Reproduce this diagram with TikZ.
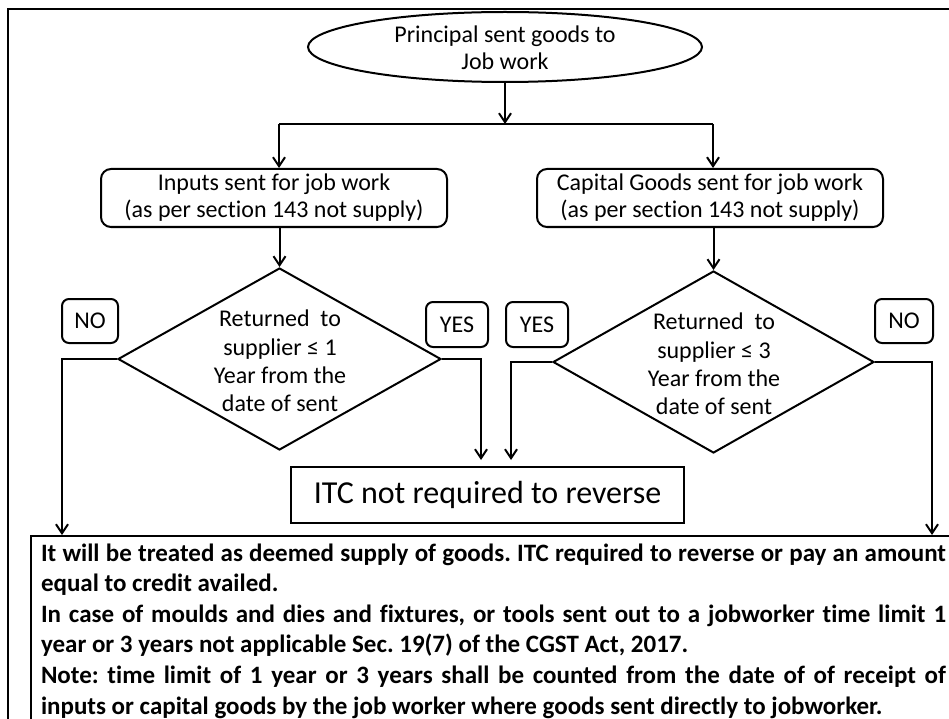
\documentclass[tikz,border=0pt]{standalone}
\usepackage{fontspec}
\setmainfont{Carlito}[Ligatures={NoCommon,NoContextual}]
\usetikzlibrary{shapes.geometric,arrows.meta}
\begin{document}
\frenchspacing
\begin{tikzpicture}[x=1pt,y=-1pt, line width=2pt,
  arr/.style={-{Straight Barb[length=9pt,width=12pt,line width=2pt]}},
  txt/.style={font=\fontsize{24}{27}\selectfont, align=center, inner sep=0pt},
  stepbox/.style={draw, rounded corners=10pt, inner sep=0pt, minimum width=346pt, minimum height=58pt, txt},
  lbl/.style={draw, rounded corners=7pt, inner sep=0pt, minimum height=44pt, font=\fontsize{24}{26}\selectfont},
  dia/.style={draw, diamond, inner sep=0pt, minimum height=182pt},
  ]
\useasboundingbox (0,0) rectangle (949,719);
\begin{scope}
\clip (0,0) rectangle (949,719);
\coordinate (fA) at (8,740);
\coordinate (fB) at (8,9);
\coordinate (fC) at (970,9);
\draw (fA) -- (fB) -- (fC);
\node[draw, inner sep=0pt, minimum width=960pt, minimum height=220pt, anchor=north west] (notebox) at (30,535) {};
\end{scope}
% start ellipse
\node[draw, ellipse, inner sep=0pt, minimum width=394pt, minimum height=70pt] (start) at (505,47) {};
\node[txt] (startT) at (505,48) {Principal sent goods to\\Job work};
% boxes
\node[stepbox] (inbox) at (274,198) {Inputs sent for job work\\(as per section 143 not supply)};
\node[stepbox] (capbox) at (710,198) {Capital Goods sent for job work\\(as per section 143 not supply)};
% diamonds
\node[dia, minimum width=323pt] (dL) at (279.5,359) {};
\node[txt, font=\fontsize{24}{28.3}\selectfont] (dLT) at (280,361) {Returned\ \ to\\supplier ≤ 1\\Year from the\\date of sent};
\node[dia, minimum width=321pt] (dR) at (713.5,362) {};
\node[txt, font=\fontsize{24}{28.3}\selectfont] (dRT) at (714,364) {Returned\ \ to\\supplier ≤ 3\\Year from the\\date of sent};
% labels
\node[lbl, minimum width=56pt] (noL) at (90,321) {NO};
\node[lbl, minimum width=62pt, minimum height=45pt] (yesL) at (457,324.5) {YES};
\node[lbl, minimum width=62pt, minimum height=45pt] (yesR) at (537,324.5) {YES};
\node[lbl, minimum width=58pt] (noR) at (904,321) {NO};
% ITC box
\node[draw, inner sep=0pt, minimum width=393pt, minimum height=56pt, font=\fontsize{32}{36}\selectfont] (itc) at (487.5,495) {ITC not required to reverse};
% note text
\node[anchor=base west, inner sep=0pt] (notetext) at (40,561) {\parbox[t]{905pt}{\bfseries\fontsize{25}{30.6}\selectfont
It will be treated as deemed supply of goods. ITC required to reverse or pay an amount\linebreak equal to credit availed.\par
In case of moulds and dies and fixtures, or tools sent out to a jobworker time limit 1\linebreak year or 3 years not applicable Sec. 19(7) of the CGST Act, 2017.\par
Note: time limit of 1 year or 3 years shall be counted from the date of of receipt of\linebreak inputs or capital goods by the job worker where goods sent directly to jobworker.}};
% connectors
\coordinate (jM) at (505,124);
\coordinate (jL) at (279,124);
\coordinate (jR) at (713,124);
\draw[arr] (start.south) -- (jM);
\draw (jL) -- (jR);
\draw[arr] (jL) -- (jL |- inbox.north);
\draw[arr] (jR) -- (jR |- capbox.north);
\draw[arr] (inbox.south -| dL.north) -- (dL.north);
\draw[arr] (capbox.south -| dR.north) -- (dR.north);
\coordinate (cNoL) at (62,535);
\coordinate (cYesL) at (481,460);
\coordinate (cYesR) at (511,460);
\coordinate (cNoR) at (932,535);
\draw[arr] (dL.west) -| (cNoL);
\draw[arr] (dL.east) -| (cYesL);
\draw[arr] (dR.west) -| (cYesR);
\draw[arr] (dR.east) -| (cNoR);
\end{tikzpicture}
\end{document}
